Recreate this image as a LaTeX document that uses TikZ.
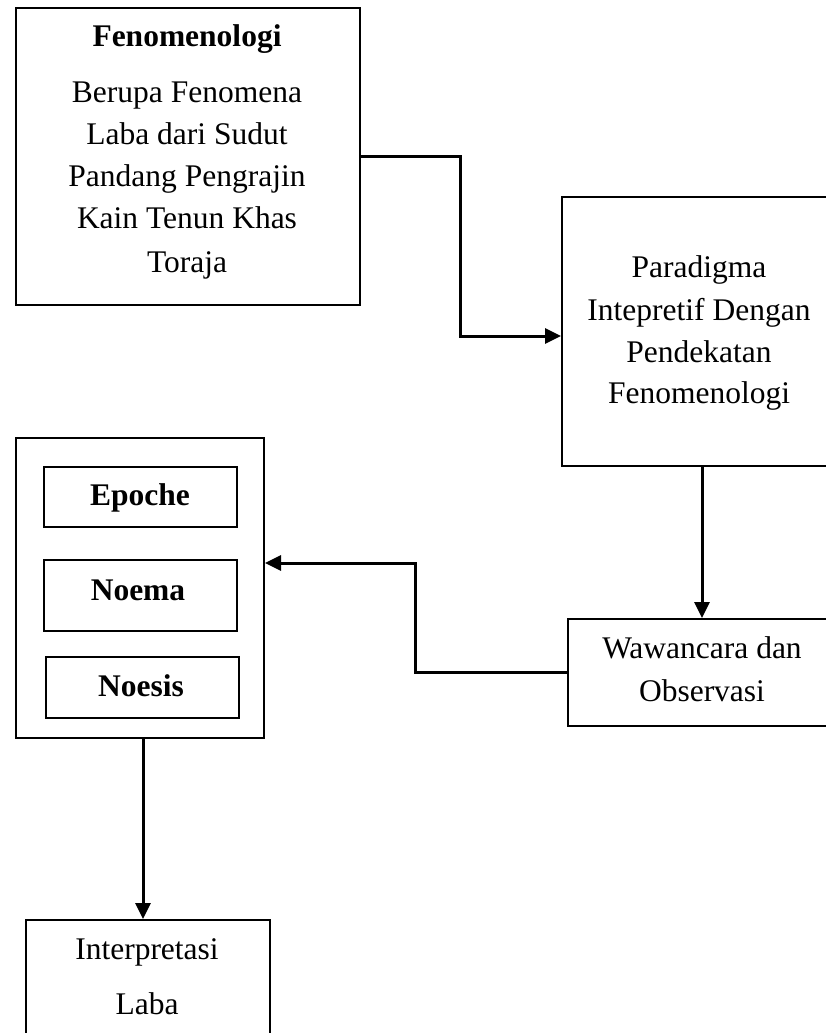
\documentclass[tikz,border=0pt]{standalone}
\usepackage{fontspec}
\setmainfont{Liberation Serif}
\usetikzlibrary{arrows.meta}
\begin{document}
\begin{tikzpicture}[x=1pt,y=-1pt,
  box/.style={draw, line width=2pt, inner sep=0pt, anchor=north west},
  txt/.style={anchor=base, inner sep=0pt, font=\fontsize{31.5}{42}\selectfont},
  btxt/.style={anchor=base, inner sep=0pt, font=\fontsize{31.5}{42}\selectfont\bfseries},
  conn/.style={line width=3pt, -{Triangle[length=16pt,width=15pt]}}]
\useasboundingbox (0,0) rectangle (826,1033);
% boxes
\node[box, minimum width=344pt, minimum height=297pt] (b1) at (15,7) {};
\node[box, minimum width=280pt, minimum height=269pt] (b2) at (561,196) {};
\node[box, minimum width=248pt, minimum height=300pt] (b3) at (15,437) {};
\node[box, minimum width=193pt, minimum height=60pt] (e1) at (43,466) {};
\node[box, minimum width=193pt, minimum height=71pt] (e2) at (43,559) {};
\node[box, minimum width=193pt, minimum height=61pt] (e3) at (45,656) {};
\node[box, minimum width=270pt, minimum height=107pt] (b4) at (567,618) {};
\node[box, minimum width=244pt, minimum height=130pt] (b5) at (25,919) {};
% texts
\node[btxt] (t1a) at (187,47) {Fenomenologi};
\node[txt] (t1b) at (187,102) {Berupa Fenomena};
\node[txt] (t1c) at (187,144) {Laba dari Sudut};
\node[txt] (t1d) at (187,186) {Pandang Pengrajin};
\node[txt] (t1e) at (187,228) {Kain Tenun Khas};
\node[txt] (t1f) at (187,272) {Toraja};
\node[txt] (t2a) at (699,277) {Paradigma};
\node[txt] (t2b) at (699,320) {Intepretif Dengan};
\node[txt] (t2c) at (699,362) {Pendekatan};
\node[txt] (t2d) at (699,403) {Fenomenologi};
\node[btxt] (te1) at (140,505) {Epoche};
\node[btxt] (te2) at (138,600) {Noema};
\node[btxt] (te3) at (141,696) {Noesis};
\node[txt] (t4a) at (702,658) {Wawancara dan};
\node[txt] (t4b) at (702,701) {Observasi};
\node[txt] (t5a) at (147,959) {Interpretasi};
\node[txt] (t5b) at (147,1014) {Laba};
% connectors
\coordinate (j1) at (460,336);
\coordinate (j2) at (415,563);
\coordinate (j3) at (143,737);
\draw[conn] (b1.east) -| (j1) -- (j1 -| b2.west);
\draw[conn] (b2.south) -- (b2.south |- b4.north);
\draw[conn] (b4.west) -| (j2) -- (j2 -| b3.east);
\draw[conn] (j3) -- (j3 |- b5.north);
\end{tikzpicture}
\end{document}
